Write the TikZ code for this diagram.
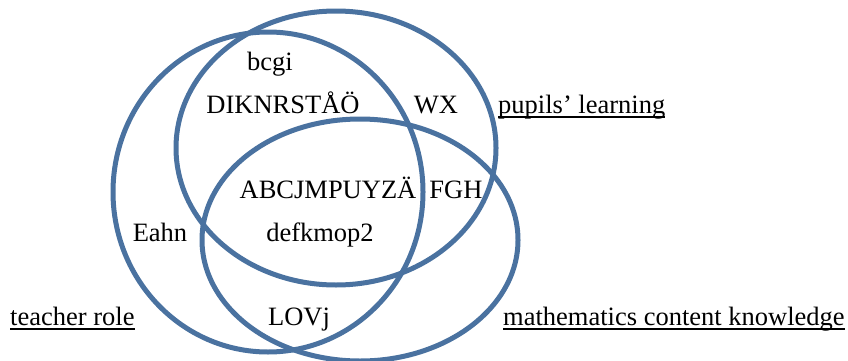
\documentclass[tikz,border=0pt]{standalone}
\usepackage{fontspec}
\setmainfont{Liberation Serif}
\definecolor{vennblue}{RGB}{74,114,160}
\begin{document}
\begin{tikzpicture}[x=1pt,y=1pt,
  ring/.style={draw=vennblue,line width=5pt},
  lbl/.style={inner sep=0pt,anchor=base,font=\fontsize{26.5}{30}\selectfont},
  cat/.style={inner sep=0pt,anchor=base west,font=\fontsize{26.5}{30}\selectfont},
  uline/.style={draw=black,line width=1.2pt}]
\useasboundingbox (0,0) rectangle (848,360);
\draw[ring] (268,168) ellipse [x radius=155, y radius=160];
\draw[ring] (336,212) ellipse [x radius=160, y radius=137];
\draw[ring] (360,120) ellipse [x radius=158, y radius=121];
\node[lbl] (bcgi) at (270,290) {bcgi};
\node[lbl] (dik) at (283,247) {DIKNRSTÅÖ};
\node[lbl] (wx) at (436,247) {WX};
\node[lbl] (abc) at (328,162) {ABCJMPUYZÄ};
\node[lbl] (fgh) at (456,162) {FGH};
\node[lbl] (eahn) at (160,119) {Eahn};
\node[lbl] (def) at (320,119) {defkmop2};
\node[lbl] (lov) at (299,35) {LOVj};
\node[cat] (pup) at (498,247) {pupils’ learning};
\node[cat] (tea) at (10,35) {teacher role};
\node[cat] (mat) at (503,35) {mathematics content knowledge};
\foreach \n in {pup,tea,mat}
  \draw[uline] ([yshift=-4pt]\n.base west) -- ([yshift=-4pt]\n.base east);
\end{tikzpicture}
\end{document}
